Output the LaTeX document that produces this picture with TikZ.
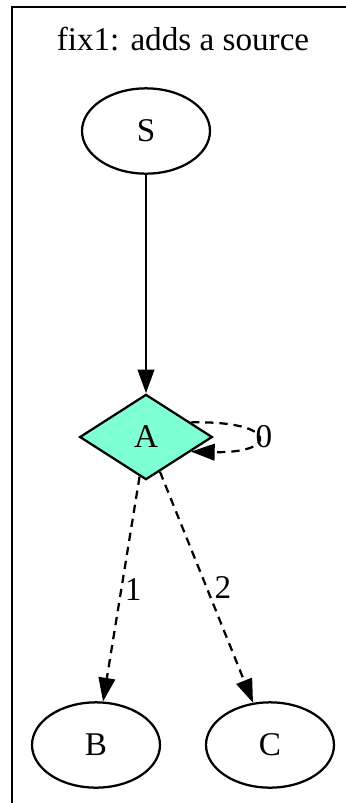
\documentclass[tikz,border=0pt]{standalone}
\usepackage{fontspec}
\setmainfont{Liberation Serif}
\usepackage{tikz}
\usetikzlibrary{shapes.geometric, arrows.meta}
\definecolor{myaqua}{RGB}{127,255,212}
\tikzset{
  gvnode/.style={ellipse, draw, line width=0.95pt,
    minimum width=54pt, minimum height=36pt, inner sep=0pt,
    font=\fontsize{14}{16}\selectfont},
  choice/.style={diamond, draw, fill=myaqua, line width=0.95pt,
    minimum width=56pt, minimum height=36pt, inner sep=0pt, aspect=1.5,
    font=\fontsize{14}{16}\selectfont},
  arrow/.style={-{Triangle[length=10pt,width=7pt]}, line width=0.95pt},
  dasharrow/.style={arrow, dash pattern=on 3.5pt off 2.5pt},
  elabel/.style={font=\fontsize{14}{16}\selectfont, inner sep=0pt}
}
\begin{document}
\begin{tikzpicture}[x=0.422pt, y=-0.422pt]
  \useasboundingbox (0,0) rectangle (345,803);
  % cluster frame
  \draw[line width=0.95pt] (12,815) -- (12,7) -- (355,7);
  \node[font=\fontsize{14}{16}\selectfont, anchor=base] (title) at (183,50) {fix1: adds a source};
  \node[gvnode] (S) at (146,131) {S};
  \node[choice] (A) at (146,437) {A};
  \node[gvnode] (B) at (96,745) {B};
  \node[gvnode] (C) at (270,745) {C};
  \draw[arrow] (S) -- (A);
  \draw[dasharrow] (A.18) .. controls +(88,-2) and +(88,2) .. (A.-18)
    node[elabel, pos=0.5, right, xshift=-1pt] {0};
  \draw[dasharrow] (A) -- node[elabel, right, xshift=1pt] {1} (B);
  \draw[dasharrow] (A) -- node[elabel, right, xshift=3pt] {2} (C);
\end{tikzpicture}
\end{document}
